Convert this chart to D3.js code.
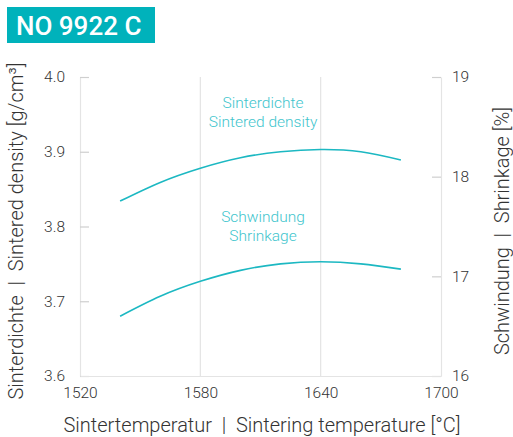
<!DOCTYPE html>
<html><head><meta charset="utf-8">
<script src="https://cdn.jsdelivr.net/npm/d3@7"></script>
<style>
body{margin:0;background:#fff;}
svg{font-family:Roboto,"Open Sans",sans-serif;}
</style></head>
<body>
<svg id="c" width="513" height="437"></svg>
<script>
const title = "NO 9922 C";
const temperatures = [1540, 1560, 1580, 1600, 1620, 1640, 1660, 1680];
const density = [3.834, 3.859, 3.878, 3.892, 3.900, 3.903, 3.900, 3.889];
const shrinkage = [16.60, 16.80, 16.95, 17.06, 17.125, 17.147, 17.125, 17.072];
const xTicks = [1520, 1580, 1640, 1700];
const yLeftTicks = [3.6, 3.7, 3.8, 3.9, 4.0];
const yRightTicks = [16, 17, 18, 19];
const xTitle = "Sintertemperatur  |  Sintering temperature [°C]";
const yLeftTitle = "Sinterdichte  |  Sintered density [g/cm³]";
const yRightTitle = "Schwindung  |  Shrinkage [%]";
const densityLabel = ["Sinterdichte", "Sintered density"];
const shrinkLabel = ["Schwindung", "Shrinkage"];

const svg = d3.select("#c");
const teal = "#00b2bb", lineC = "#1cb8c2", labelC = "#3ec5cd", gridC = "#e4e4e4", textC = "#333";
const L = 80, R = 441, T = 77, B = 376;
const x = d3.scaleLinear().domain([1520, 1700]).range([L, R]);
const yL = d3.scaleLinear().domain([3.6, 4.0]).range([B, T]);
const yR = d3.scaleLinear().domain([16, 19]).range([B, T]);

// title box
svg.append("rect").attr("x", 7).attr("y", 7).attr("width", 148).attr("height", 36).attr("fill", teal);
svg.append("text").attr("x", 16).attr("y", 35).attr("fill", "#fff").attr("font-size", 26)
  .attr("font-weight", 500).text(title);

// grid verticals
svg.append("g").selectAll("line").data(xTicks.slice(1, -1)).join("line")
  .attr("x1", d => x(d)).attr("x2", d => x(d)).attr("y1", T).attr("y2", B)
  .attr("stroke", gridC).attr("stroke-width", 1.2);

// axes
const axL = svg.append("g").attr("transform", `translate(${L},0)`)
  .call(d3.axisLeft(yL).tickValues(yLeftTicks).tickFormat(d3.format(".1f")).tickSizeInner(-9).tickSizeOuter(0).tickPadding(15));
const axR = svg.append("g").attr("transform", `translate(${R},0)`)
  .call(d3.axisRight(yR).tickValues(yRightTicks).tickFormat(d3.format("d")).tickSizeInner(-9).tickSizeOuter(0).tickPadding(11));
const axB = svg.append("g").attr("transform", `translate(0,${B})`)
  .call(d3.axisBottom(x).tickValues(xTicks).tickFormat(d3.format("d")).tickSize(0).tickPadding(11));
[axL, axR, axB].forEach(a => {
  a.select(".domain").attr("stroke", gridC).attr("stroke-width", 1.2);
  a.selectAll(".tick line").attr("stroke", "#cfcfcf").attr("stroke-width", 1.2);
  a.selectAll(".tick text").attr("fill", textC).attr("font-size", 15.5).attr("font-weight", 300)
   .attr("font-family", "Roboto, sans-serif");
});

// lines
const lineD = d3.line().x((d, i) => x(temperatures[i])).y(d => yL(d)).curve(d3.curveNatural);
const lineS = d3.line().x((d, i) => x(temperatures[i])).y(d => yR(d)).curve(d3.curveNatural);
svg.append("path").attr("d", lineD(density)).attr("fill", "none").attr("stroke", lineC).attr("stroke-width", 1.6);
svg.append("path").attr("d", lineS(shrinkage)).attr("fill", "none").attr("stroke", lineC).attr("stroke-width", 1.6);

// series labels
function label(lines, cx, y0) {
  svg.append("g").selectAll("text").data(lines).join("text")
    .attr("x", cx).attr("y", (d, i) => y0 + i * 19).attr("text-anchor", "middle")
    .attr("fill", labelC).attr("font-size", 15.5).attr("font-weight", 300).text(d => d);
}
label(densityLabel, 263, 108);
label(shrinkLabel, 263, 222);

// axis titles
svg.append("text").attr("x", 262).attr("y", 432).attr("text-anchor", "middle")
  .attr("fill", textC).attr("font-size", 20).attr("font-weight", 300)
  .style("white-space", "pre").text(xTitle);
svg.append("text").attr("transform", "translate(23,231) rotate(-90)").attr("text-anchor", "middle")
  .attr("fill", textC).attr("font-size", 20).attr("font-weight", 300)
  .style("white-space", "pre").text(yLeftTitle);
svg.append("text").attr("transform", "translate(509,231) rotate(-90)").attr("text-anchor", "middle")
  .attr("fill", textC).attr("font-size", 20).attr("font-weight", 300)
  .style("white-space", "pre").text(yRightTitle);
</script>
</body></html>
